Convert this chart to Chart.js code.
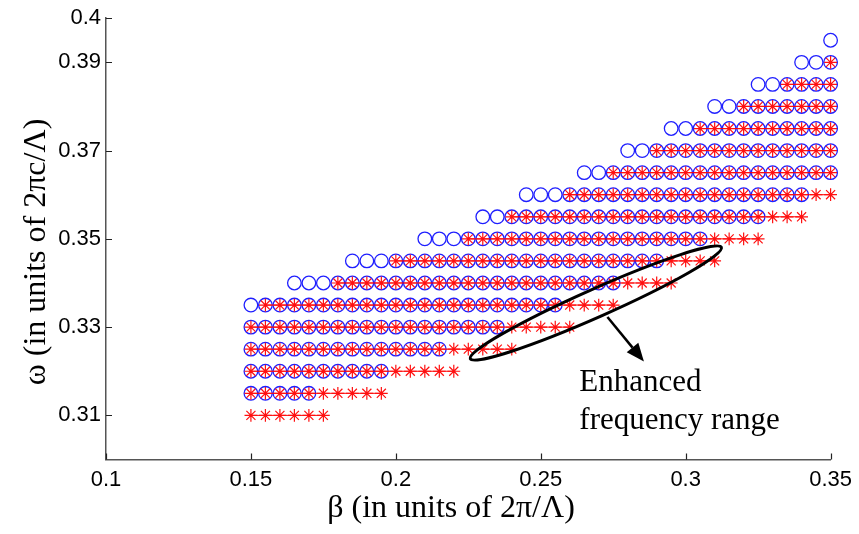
<!DOCTYPE html>
<html>
<head>
<meta charset="utf-8">
<script src="https://cdn.jsdelivr.net/npm/chart.js@4.4.1/dist/chart.umd.min.js"></script>
<style>
  html, body { margin: 0; padding: 0; background: #fff; }
  #wrap { width: 859px; height: 534px; position: relative; }
</style>
</head>
<body>
<div id="wrap"><canvas id="bandChart"></canvas></div>
<script>
// beta sample grid (units of 2pi/Lambda)
const betaGrid = [0.15, 0.155, 0.16, 0.165, 0.17, 0.175, 0.18, 0.185, 0.19, 0.195,
                  0.2, 0.205, 0.21, 0.215, 0.22, 0.225, 0.23, 0.235, 0.24, 0.245,
                  0.25, 0.255, 0.26, 0.265, 0.27, 0.275, 0.28, 0.285, 0.29, 0.295,
                  0.3, 0.305, 0.31, 0.315, 0.32, 0.325, 0.33, 0.335, 0.34, 0.345, 0.35];

// omega rows (units of 2pi c/Lambda), bottom to top
const omegaRows = [0.31, 0.315, 0.32, 0.325, 0.33, 0.335, 0.34, 0.345, 0.35,
                   0.355, 0.36, 0.365, 0.37, 0.375, 0.38, 0.385, 0.39, 0.395];

// band edges per row: circles (blue), asterisks (red); null = row empty
const circleFrom = [null, 0.15, 0.15, 0.15, 0.15, 0.15, 0.165, 0.185, 0.21,
                    0.23, 0.245, 0.265, 0.28, 0.295, 0.31, 0.325, 0.34, 0.35];
const circleTo   = [null, 0.17, 0.195, 0.215, 0.235, 0.255, 0.275, 0.29, 0.305,
                    0.325, 0.34, 0.35, 0.35, 0.35, 0.35, 0.35, 0.35, 0.35];
const starFrom   = [0.15, 0.15, 0.15, 0.15, 0.15, 0.155, 0.18, 0.2, 0.225,
                    0.24, 0.26, 0.275, 0.29, 0.305, 0.32, 0.335, 0.35, null];
const starTo     = [0.175, 0.195, 0.22, 0.24, 0.26, 0.275, 0.295, 0.31, 0.325,
                    0.34, 0.35, 0.35, 0.35, 0.35, 0.35, 0.35, 0.35, null];

const xTicks = [0.1, 0.15, 0.2, 0.25, 0.3, 0.35];
const yTicks = [0.31, 0.33, 0.35, 0.37, 0.39, 0.4];

const xTitle = 'β (in units of 2π/Λ)';
const yTitle = 'ω (in units of 2πc/Λ)';
const noteLines = ['Enhanced', 'frequency range'];

function rowPoints(i, from, to) {
    if (from[i] === null) return [];
    return betaGrid
        .filter(b => b > from[i] - 1e-9 && b < to[i] + 1e-9)
        .map(b => ({ x: b, y: omegaRows[i] }));
}

const circlePoints = [];
omegaRows.forEach((w, i) => circlePoints.push(...rowPoints(i, circleFrom, circleTo)));

const datasets = [{
    label: 'circles',
    data: circlePoints,
    order: 2,
    clip: false,
    showLine: false,
    pointStyle: 'circle',
    pointRadius: 6.8,
    pointBorderWidth: 1.3,
    pointBorderColor: '#1f1fff',
    pointBackgroundColor: 'rgba(0,0,0,0)'
}];

omegaRows.forEach((w, i) => {
    const pts = rowPoints(i, starFrom, starTo);
    if (!pts.length) return;
    datasets.push({
        label: 'stars ' + w,
        data: pts,
        order: 1,
        clip: false,
        showLine: true,
        borderColor: '#ff0000',
        borderWidth: 1,
        pointStyle: 'star',
        pointRadius: 6.4,
        pointBorderWidth: 1.2,
        pointBorderColor: '#ff1010',
        pointBackgroundColor: '#ff1010'
    });
});

const tickFont = { family: '"Liberation Sans", Arial, sans-serif', size: 22 };
const serif = '"Liberation Serif", "Times New Roman", serif';

// MATLAB-style ticks pointing into the plot
const inwardTicks = {
    id: 'inwardTicks',
    afterDraw(chart) {
        const { ctx, chartArea: a, scales: { x, y } } = chart;
        ctx.save();
        ctx.strokeStyle = '#222';
        ctx.lineWidth = 1.2;
        ctx.beginPath();
        x.ticks.forEach(t => {
            const px = Math.round(x.getPixelForValue(t.value)) + 0.5;
            ctx.moveTo(px, a.bottom);
            ctx.lineTo(px, a.bottom - 6);
        });
        y.ticks.forEach(t => {
            const py = Math.round(y.getPixelForValue(t.value)) + 0.5;
            ctx.moveTo(a.left, py);
            ctx.lineTo(a.left + 6, py);
        });
        ctx.stroke();
        ctx.restore();
    }
};

// axis titles
const axisTitles = {
    id: 'axisTitles',
    afterDraw(chart) {
        const { ctx } = chart;
        ctx.save();
        ctx.fillStyle = '#000';
        ctx.font = '32px ' + serif;
        ctx.textAlign = 'center';
        ctx.textBaseline = 'alphabetic';
        ctx.fillText(xTitle, 451, 517);
        ctx.translate(45, 252);
        ctx.rotate(-Math.PI / 2);
        ctx.fillText(yTitle, 0, 0);
        ctx.restore();
    }
};

// ellipse + arrow + label marking the enhanced range
const rangeNote = {
    id: 'rangeNote',
    afterDraw(chart) {
        const { ctx, scales: { x, y } } = chart;
        const p = (b, w) => [x.getPixelForValue(b), y.getPixelForValue(w)];
        const [x1, y1] = p(0.2252, 0.3227);
        const [x2, y2] = p(0.3128, 0.3482);
        const cx = (x1 + x2) / 2, cy = (y1 + y2) / 2;
        const ang = Math.atan2(y2 - y1, x2 - x1);
        const half = Math.hypot(x2 - x1, y2 - y1) / 2 - 1.5;
        ctx.save();
        ctx.strokeStyle = '#000';
        ctx.lineWidth = 3;
        ctx.beginPath();
        ctx.ellipse(cx, cy, half, 14, ang, 0, Math.PI * 2);
        ctx.stroke();

        const [ax, ay] = p(0.2730, 0.3323);
        const [tx, ty] = p(0.2856, 0.3222);
        const a2 = Math.atan2(ty - ay, tx - ax);
        const hl = 18, hw = 7.5;
        const bx = tx - hl * Math.cos(a2), by = ty - hl * Math.sin(a2);
        ctx.lineWidth = 2.5;
        ctx.beginPath();
        ctx.moveTo(ax, ay);
        ctx.lineTo(bx, by);
        ctx.stroke();
        ctx.fillStyle = '#000';
        ctx.beginPath();
        ctx.moveTo(tx, ty);
        ctx.lineTo(bx + hw * Math.sin(a2), by - hw * Math.cos(a2));
        ctx.lineTo(bx - hw * Math.sin(a2), by + hw * Math.cos(a2));
        ctx.closePath();
        ctx.fill();

        const [lx, ly] = p(0.2633, 0.3155);
        ctx.font = '31px ' + serif;
        ctx.textAlign = 'left';
        ctx.textBaseline = 'alphabetic';
        ctx.fillText(noteLines[0], lx, ly);
        ctx.fillText(noteLines[1], lx, ly + 37.5);
        ctx.restore();
    }
};

new Chart(document.getElementById('bandChart').getContext('2d'), {
    type: 'scatter',
    data: { datasets: datasets },
    options: {
        responsive: true,
        maintainAspectRatio: false,
        animation: false,
        events: [],
        layout: { padding: { left: 0, right: 27, top: 17, bottom: 0 } },
        plugins: {
            legend: { display: false },
            tooltip: { enabled: false }
        },
        scales: {
            x: {
                type: 'linear',
                min: 0.1,
                max: 0.35,
                afterBuildTicks: s => { s.ticks = xTicks.map(v => ({ value: v })); },
                afterFit: s => { s.height = 74.5; },
                grid: { display: false, drawTicks: false },
                border: { display: true, color: '#555', width: 1.5 },
                ticks: {
                    padding: 7,
                    color: '#000',
                    font: tickFont,
                    maxRotation: 0,
                    autoSkip: false,
                    callback: v => String(v)
                }
            },
            y: {
                type: 'linear',
                min: 0.3,
                max: 0.4,
                afterBuildTicks: s => { s.ticks = yTicks.map(v => ({ value: v })); },
                afterFit: s => { s.width = 106; },
                grid: { display: false, drawTicks: false },
                border: { display: true, color: '#555', width: 1.5 },
                ticks: {
                    padding: 5,
                    color: '#000',
                    font: tickFont,
                    autoSkip: false,
                    callback: v => String(v)
                }
            }
        }
    },
    plugins: [inwardTicks, axisTitles, rangeNote]
});
</script>
</body>
</html>
